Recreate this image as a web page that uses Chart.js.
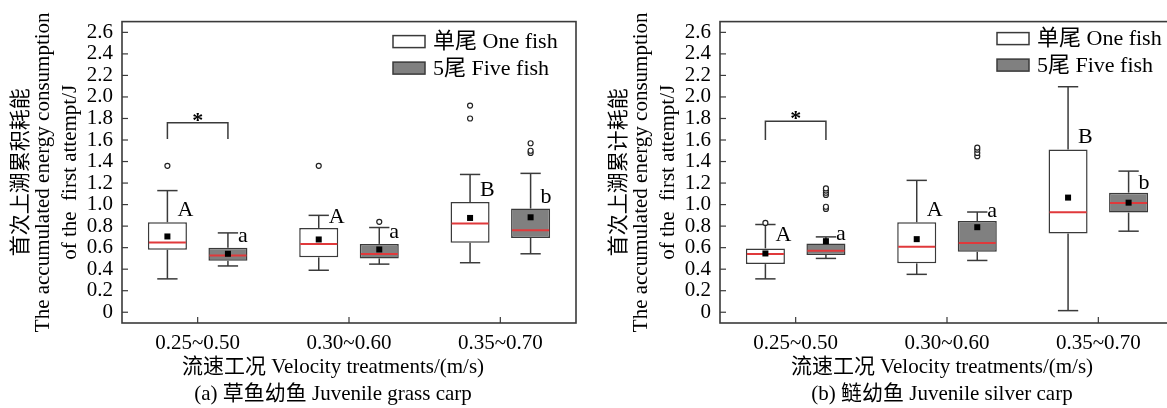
<!DOCTYPE html>
<html>
<head>
<meta charset="utf-8">
<script src="https://cdn.jsdelivr.net/npm/chart.js@4.4.1/dist/chart.umd.min.js"></script>
<style>
  html, body { margin: 0; padding: 0; background: #ffffff; overflow: hidden; width: 1167px; height: 408px; }
  .panel { position: absolute; top: 0; width: 598px; height: 408px; }
  #pa { left: 0; }
  #pb { left: 598px; }
</style>
</head>
<body>
<div class="panel" id="pa"><canvas id="ca" width="598" height="408"></canvas></div>
<div class="panel" id="pb"><canvas id="cb" width="598" height="408"></canvas></div>
<script>
// ---- categories and axis ticks ----
const categories = ['0.25~0.50', '0.30~0.60', '0.35~0.70'];
const yTickValues = [0, 0.2, 0.4, 0.6, 0.8, 1.0, 1.2, 1.4, 1.6, 1.8, 2.0, 2.2, 2.4, 2.6];
const seriesNames = ['单尾 One fish', '5尾 Five fish'];

// ---- (a) juvenile grass carp, one fish ----
const grassOneMin     = [0.31, 0.39, 0.46];
const grassOneQ1      = [0.58, 0.51, 0.645];
const grassOneMedian  = [0.648, 0.635, 0.824];
const grassOneQ3      = [0.836, 0.783, 1.024];
const grassOneMax     = [1.13, 0.90, 1.28];
const grassOneMean    = [0.704, 0.676, 0.876];
const grassOneOutliers = [[1.36], [1.36], [1.80, 1.92]];
const grassOneLetters = ['A', 'A', 'B'];
const grassOneLetterAt = [0.946, 0.885, 1.132];

// ---- (a) juvenile grass carp, five fish ----
const grassFiveMin     = [0.43, 0.447, 0.543];
const grassFiveQ1      = [0.478, 0.50, 0.69];
const grassFiveMedian  = [0.528, 0.54, 0.762];
const grassFiveQ3      = [0.60, 0.635, 0.963];
const grassFiveMax     = [0.737, 0.787, 1.29];
const grassFiveMean    = [0.543, 0.583, 0.882];
const grassFiveOutliers = [[], [0.84], [1.48, 1.50, 1.57]];
const grassFiveLetters = ['a', 'a', 'b'];
const grassFiveLetterAt = [0.709, 0.744, 1.07];

// ---- (b) juvenile silver carp, one fish ----
const silverOneMin     = [0.31, 0.352, 0.015];
const silverOneQ1      = [0.447, 0.454, 0.731];
const silverOneMedian  = [0.54, 0.608, 0.929];
const silverOneQ3      = [0.593, 0.836, 1.512];
const silverOneMax     = [0.815, 1.225, 2.095];
const silverOneMean    = [0.546, 0.679, 1.065];
const silverOneOutliers = [[0.83], [], []];
const silverOneLetters = ['A', 'A', 'B'];
const silverOneLetterAt = [0.716, 0.947, 1.626];

// ---- (b) juvenile silver carp, five fish ----
const silverFiveMin     = [0.50, 0.481, 0.753];
const silverFiveQ1      = [0.531, 0.561, 0.926];
const silverFiveMedian  = [0.571, 0.644, 1.015];
const silverFiveQ3      = [0.639, 0.848, 1.111];
const silverFiveMax     = [0.70, 0.931, 1.311];
const silverFiveMean    = [0.66, 0.79, 1.018];
const silverFiveOutliers = [[0.96, 0.98, 1.09, 1.11, 1.13, 1.15], [1.45, 1.48, 1.51, 1.53], []];
const silverFiveLetters = ['a', 'a', 'b'];
const silverFiveLetterAt = [0.722, 0.938, 1.194];

// significance bracket between the two boxes of the first treatment
const grassSigTop = 1.76, grassSigFoot = 1.61;
const silverSigTop = 1.775, silverSigFoot = 1.60;

const FONT = '"Liberation Serif", "Times New Roman", "Noto Sans CJK SC", serif';
const INK = '#3a3a3a';

function series(min, q1, med, q3, max, mean, out, letters, letterAt) {
  return { min, q1, med, q3, max, mean, out, letters, letterAt };
}

const panels = [
  {
    canvas: 'ca',
    yTitleZh: '首次上溯累积耗能',
    caption: '(a) 草鱼幼鱼 Juvenile grass carp',
    sigTop: grassSigTop, sigFoot: grassSigFoot,
    legendDx: 271, legendDy: 14, titleDx: -16,
    series: [
      series(grassOneMin, grassOneQ1, grassOneMedian, grassOneQ3, grassOneMax, grassOneMean, grassOneOutliers, grassOneLetters, grassOneLetterAt),
      series(grassFiveMin, grassFiveQ1, grassFiveMedian, grassFiveQ3, grassFiveMax, grassFiveMean, grassFiveOutliers, grassFiveLetters, grassFiveLetterAt)
    ]
  },
  {
    canvas: 'cb',
    yTitleZh: '首次上溯累计耗能',
    caption: '(b) 鲢幼鱼 Juvenile silver carp',
    sigTop: silverSigTop, sigFoot: silverSigFoot,
    legendDx: 277, legendDy: 11, titleDx: -5,
    series: [
      series(silverOneMin, silverOneQ1, silverOneMedian, silverOneQ3, silverOneMax, silverOneMean, silverOneOutliers, silverOneLetters, silverOneLetterAt),
      series(silverFiveMin, silverFiveQ1, silverFiveMedian, silverFiveQ3, silverFiveMax, silverFiveMean, silverFiveOutliers, silverFiveLetters, silverFiveLetterAt)
    ]
  }
];

const fills = ['#ffffff', '#808080'];

function line(ctx, x1, y1, x2, y2) {
  ctx.beginPath(); ctx.moveTo(x1, y1); ctx.lineTo(x2, y2); ctx.stroke();
}

function makeDecor(panel) {
  return {
    id: 'boxDecor',
    afterDatasetsDraw(chart) {
      const ctx = chart.ctx, ys = chart.scales.y;
      ctx.save();
      panel.series.forEach((s, di) => {
        const meta = chart.getDatasetMeta(di);
        meta.data.forEach((bar, i) => {
          const x = bar.x, w = bar.width, cap = w * 0.26;
          const py = v => ys.getPixelForValue(v);
          // whiskers and caps
          ctx.strokeStyle = INK; ctx.lineWidth = 1.5;
          line(ctx, x, py(s.q3[i]), x, py(s.max[i]));
          line(ctx, x - cap, py(s.max[i]), x + cap, py(s.max[i]));
          line(ctx, x, py(s.q1[i]), x, py(s.min[i]));
          line(ctx, x - cap, py(s.min[i]), x + cap, py(s.min[i]));
          // median
          ctx.strokeStyle = '#e0393b'; ctx.lineWidth = 2;
          line(ctx, x - w / 2 + 1, py(s.med[i]), x + w / 2 - 1, py(s.med[i]));
          // mean
          ctx.fillStyle = '#000';
          ctx.fillRect(x - 3, py(s.mean[i]) - 3, 6, 6);
          // outliers
          ctx.strokeStyle = '#222'; ctx.lineWidth = 1.2; ctx.fillStyle = '#fff';
          s.out[i].forEach(v => {
            ctx.beginPath(); ctx.arc(x, py(v), 2.5, 0, Math.PI * 2); ctx.fill(); ctx.stroke();
          });
          // group letter
          ctx.fillStyle = '#000';
          ctx.font = '22px ' + FONT;
          ctx.textAlign = 'left'; ctx.textBaseline = 'middle';
          ctx.fillText(s.letters[i], x + 10, py(s.letterAt[i]));
        });
      });
      // significance bracket
      const xa = chart.getDatasetMeta(0).data[0].x;
      const xb = chart.getDatasetMeta(1).data[0].x;
      const yt = ys.getPixelForValue(panel.sigTop), yf = ys.getPixelForValue(panel.sigFoot);
      ctx.strokeStyle = INK; ctx.lineWidth = 1.5;
      ctx.beginPath(); ctx.moveTo(xa, yf); ctx.lineTo(xa, yt); ctx.lineTo(xb, yt); ctx.lineTo(xb, yf); ctx.stroke();
      ctx.fillStyle = '#000'; ctx.font = 'bold 22px ' + FONT;
      ctx.textAlign = 'center'; ctx.textBaseline = 'alphabetic';
      ctx.fillText('*', (xa + xb) / 2, yt + 4);
      ctx.restore();
    },
    afterDraw(chart) {
      const ctx = chart.ctx, a = chart.chartArea;
      const xs = chart.scales.x, ys = chart.scales.y;
      ctx.save();
      // frame
      ctx.strokeStyle = INK; ctx.lineWidth = 1.6;
      ctx.strokeRect(a.left, a.top, a.right - a.left, a.bottom - a.top);
      // inward ticks
      ctx.lineWidth = 1.2;
      yTickValues.forEach(v => {
        const y = ys.getPixelForValue(v);
        line(ctx, a.left, y, a.left + 6, y);
      });
      categories.forEach((c, i) => {
        const x = xs.getPixelForValue(i);
        line(ctx, x, a.bottom, x, a.bottom - 6);
      });
      // legend
      const lx = a.left + panel.legendDx, ly = a.top + panel.legendDy;
      ctx.font = '22px ' + FONT; ctx.textAlign = 'left'; ctx.textBaseline = 'middle';
      seriesNames.forEach((name, k) => {
        const sy = ly + k * 26.5;
        ctx.fillStyle = fills[k]; ctx.fillRect(lx, sy, 32, 12);
        ctx.strokeStyle = INK; ctx.lineWidth = 1.5; ctx.strokeRect(lx, sy, 32, 12);
        ctx.fillStyle = '#000'; ctx.fillText(name, lx + 40, sy + 7);
      });
      // axis titles
      ctx.font = '21px ' + FONT;
      const cy = (a.top + a.bottom) / 2, cx = (a.left + a.right) / 2 + panel.titleDx;
      const yLines = [
        [panel.yTitleZh, -101],
        ['The accumulated energy consumption', -79],
        ['of the  first attempt/J', -52]
      ];
      ctx.textAlign = 'center'; ctx.textBaseline = 'middle';
      yLines.forEach(([t, dx]) => {
        ctx.save(); ctx.translate(a.left + dx, cy); ctx.rotate(-Math.PI / 2);
        ctx.fillText(t, 0, 0); ctx.restore();
      });
      ctx.fillText('流速工况 Velocity treatments/(m/s)', cx, 367);
      ctx.fillText(panel.caption, cx, 394);
      ctx.restore();
    }
  };
}

panels.forEach(panel => {
  const datasets = panel.series.map((s, k) => ({
    label: seriesNames[k],
    data: s.q1.map((v, i) => [v, s.q3[i]]),
    backgroundColor: fills[k],
    borderColor: INK,
    borderWidth: 1.5,
    borderSkipped: false,
    barPercentage: 0.645,
    categoryPercentage: 0.8
  }));
  new Chart(document.getElementById(panel.canvas), {
    type: 'bar',
    data: { labels: categories, datasets },
    options: {
      responsive: false,
      animation: false,
      devicePixelRatio: 1,
      layout: { padding: { top: 20, right: 22, left: 0, bottom: 0 } },
      plugins: { legend: { display: false }, tooltip: { enabled: false } },
      scales: {
        x: {
          type: 'category', offset: true,
          grid: { display: false, drawTicks: false },
          border: { display: false },
          ticks: { font: { family: FONT, size: 21 }, color: '#000', padding: 8, maxRotation: 0, autoSkip: false },
          afterFit(s) { s.height = 85; }
        },
        y: {
          type: 'linear', min: -0.1, max: 2.7,
          grid: { display: false, drawTicks: false },
          border: { display: false },
          ticks: {
            font: { family: FONT, size: 21 }, color: '#000', padding: 9, autoSkip: false,
            callback: v => (Math.abs(v) < 1e-9 ? '0' : Number(v).toFixed(1))
          },
          afterBuildTicks(s) { s.ticks = yTickValues.map(v => ({ value: v })); },
          afterFit(s) { s.width = 122; }
        }
      }
    },
    plugins: [makeDecor(panel)]
  });
});
</script>
</body>
</html>
